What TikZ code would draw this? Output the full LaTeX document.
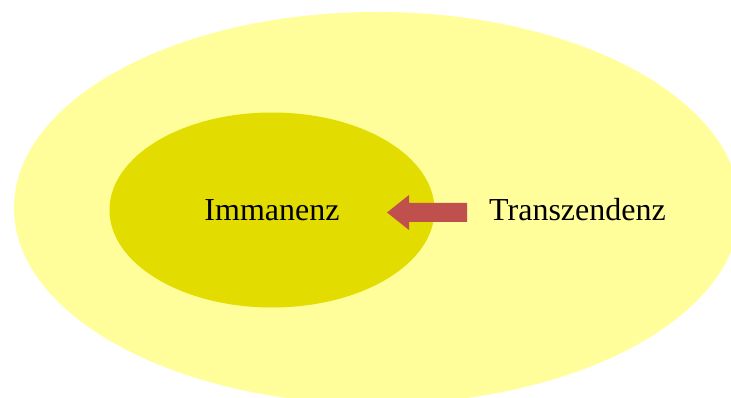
\documentclass[tikz,border=0pt]{standalone}
\usepackage{fontspec}
\setmainfont{Liberation Serif}
\usetikzlibrary{shapes.geometric,arrows.meta}
\definecolor{outerY}{HTML}{FFFE9A}
\definecolor{innerY}{HTML}{E2DC00}
\definecolor{arrowR}{HTML}{C0504D}
\tikzset{
  lbl/.style={font=\fontsize{32}{38}\selectfont, text=black, inner sep=0pt},
  blob/.style={ellipse, draw=none, inner sep=0pt},
}
\begin{document}
\begin{tikzpicture}[x=1pt,y=-1pt]
\useasboundingbox (0,0) rectangle (731,398);
\clip (0,0) rectangle (731,398);
\fill[white] (0,0) rectangle (731,398);
\node[blob, fill=outerY, minimum width=726pt, minimum height=392pt] (outer) at (377,208) {};
\node[blob, fill=innerY, minimum width=325pt, minimum height=195pt] (inner) at (272,210) {};
\node[lbl] (imm) at (272,210) {Immanenz};
\node[lbl] (trans) at (577.5,210) {Transzendenz};
\coordinate (tail) at (467,212.5);
\coordinate (tip) at (387,212.5);
\fill[arrowR] (tail) ++(0,-9.5) -- ++(-58,0) -- ++(0,-8) -- (tip) -- ++(22,17.5) -- ++(0,-8) -- ++(58,0) -- cycle;
\end{tikzpicture}
\end{document}
